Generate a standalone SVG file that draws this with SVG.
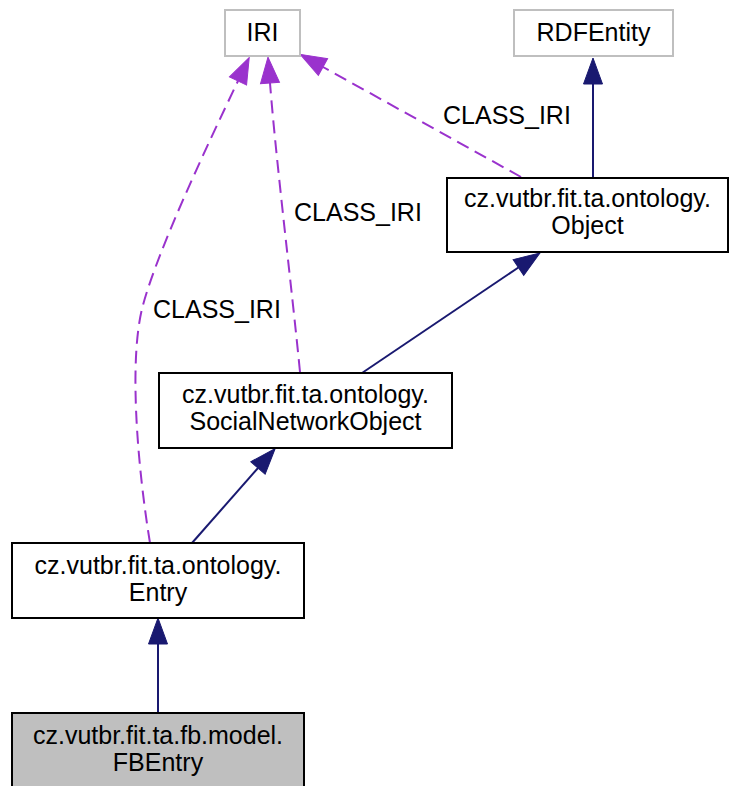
<svg xmlns="http://www.w3.org/2000/svg" width="729" height="786" viewBox="0 0 729 786">
<style>
text{font-family:"Liberation Sans",Arial,Helvetica,sans-serif;font-size:25px;fill:#000}
.n{text-anchor:middle}
.box{fill:#fff;stroke:#000;stroke-width:2}
.ext{fill:#fff;stroke:#bfbfbf;stroke-width:2}
.cur{fill:#bfbfbf;stroke:#000;stroke-width:2}
.inh{fill:none;stroke:#191970;stroke-width:2}
.use{fill:none;stroke:#9a32cd;stroke-width:2;stroke-dasharray:13,7}
</style>
<defs>
<marker id="ah" markerUnits="userSpaceOnUse" markerWidth="28" markerHeight="22" refX="0" refY="10" orient="auto" overflow="visible">
<path d="M0,0.5 L26,10 L0,19.5 Z" fill="#191970" stroke="#191970" stroke-width="1"/>
</marker>
<marker id="ap" markerUnits="userSpaceOnUse" markerWidth="28" markerHeight="22" refX="0" refY="10" orient="auto" overflow="visible">
<path d="M0,0.5 L26,10 L0,19.5 Z" fill="#9a32cd" stroke="#9a32cd" stroke-width="1"/>
</marker>
</defs>
<g id="connectors">
<path class="inh" d="M593,178 L593,84" marker-end="url(#ah)"/>
<path class="inh" d="M362,373 L518.4,267.5" marker-end="url(#ah)"/>
<path class="inh" d="M192,543 L258,468" marker-end="url(#ah)"/>
<path class="inh" d="M158,713 L158,644" marker-end="url(#ah)"/>
<path class="use" d="M521,177 L323,67" marker-end="url(#ap)"/>
<path class="use" d="M300,372 C292,290 276,160 270,83" marker-end="url(#ap)"/>
<path class="use" d="M150,543 C138,470 128,360 143,305 C158,250 205,150 238,81" marker-end="url(#ap)"/>
<text x="443" y="124">CLASS_IRI</text>
<text x="294" y="221">CLASS_IRI</text>
<text x="153" y="318">CLASS_IRI</text>
</g>
<g id="IRI">
<rect class="ext" x="225" y="10" width="75" height="46"/>
<text class="n" x="262.5" y="41">IRI</text>
</g>
<g id="RDFEntity">
<rect class="ext" x="514" y="10" width="159" height="46"/>
<text class="n" x="593.5" y="41">RDFEntity</text>
</g>
<g id="Object">
<rect class="box" x="447" y="178" width="281" height="74"/>
<text class="n" x="587.5" y="207">cz.vutbr.fit.ta.ontology.</text>
<text class="n" x="587.5" y="234">Object</text>
</g>
<g id="SocialNetworkObject">
<rect class="box" x="159" y="373" width="293" height="75"/>
<text class="n" x="305.5" y="403">cz.vutbr.fit.ta.ontology.</text>
<text class="n" x="305.5" y="430">SocialNetworkObject</text>
</g>
<g id="Entry">
<rect class="box" x="12" y="543" width="292" height="75"/>
<text class="n" x="158" y="574">cz.vutbr.fit.ta.ontology.</text>
<text class="n" x="158" y="601">Entry</text>
</g>
<g id="FBEntry">
<rect class="cur" x="12" y="713" width="292" height="75"/>
<text class="n" x="158" y="744">cz.vutbr.fit.ta.fb.model.</text>
<text class="n" x="158" y="771">FBEntry</text>
</g>
</svg>
